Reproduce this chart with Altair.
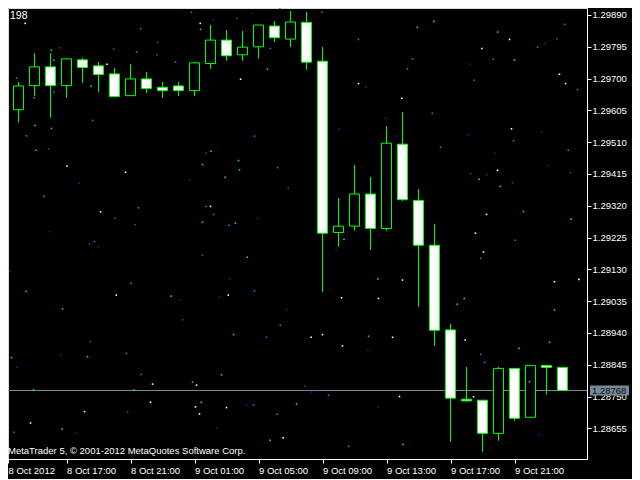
import json
import altair as alt
import pandas as pd

# ---------------- data (H1 bars) ----------------
bar_times = ["8 Oct 13:00", "8 Oct 14:00", "8 Oct 15:00", "8 Oct 16:00", "8 Oct 17:00", "8 Oct 18:00",
             "8 Oct 19:00", "8 Oct 20:00", "8 Oct 21:00", "8 Oct 22:00", "8 Oct 23:00", "9 Oct 00:00",
             "9 Oct 01:00", "9 Oct 02:00", "9 Oct 03:00", "9 Oct 04:00", "9 Oct 05:00", "9 Oct 06:00",
             "9 Oct 07:00", "9 Oct 08:00", "9 Oct 09:00", "9 Oct 10:00", "9 Oct 11:00", "9 Oct 12:00",
             "9 Oct 13:00", "9 Oct 14:00", "9 Oct 15:00", "9 Oct 16:00", "9 Oct 17:00", "9 Oct 18:00",
             "9 Oct 19:00", "9 Oct 20:00", "9 Oct 21:00", "9 Oct 22:00", "9 Oct 23:00", "10 Oct 00:00"]

opens = [1.29497, 1.29607, 1.29679, 1.29735, 1.29679, 1.29756, 1.29738, 1.29714, 1.29649, 1.29699,
         1.29674, 1.29678, 1.29664, 1.29745, 1.29815, 1.29771, 1.29795, 1.29857, 1.29818, 1.29868,
         1.29752, 1.29240, 1.29259, 1.29355, 1.29252, 1.29504, 1.29336, 1.29202, 1.28949, 1.28742,
         1.28739, 1.28640, 1.28834, 1.28688, 1.28843, 1.28837]
highs = [1.29620, 1.29690, 1.29776, 1.29776, 1.29759, 1.29762, 1.29750, 1.29732, 1.29744, 1.29720,
         1.29690, 1.29690, 1.29750, 1.29860, 1.29845, 1.29842, 1.29860, 1.29872, 1.29902, 1.29899,
         1.29794, 1.29343, 1.29442, 1.29406, 1.29558, 1.29600, 1.29370, 1.29266, 1.28967, 1.28838,
         1.28739, 1.28838, 1.28834, 1.28843, 1.28843, 1.28837]
lows = [1.29480, 1.29568, 1.29648, 1.29583, 1.29643, 1.29687, 1.29660, 1.29646, 1.29649, 1.29657,
        1.29642, 1.29648, 1.29648, 1.29729, 1.29753, 1.29753, 1.29759, 1.29809, 1.29794, 1.29726,
        1.29063, 1.29198, 1.29246, 1.29188, 1.29246, 1.29335, 1.29018, 1.28901, 1.28615, 1.28735,
        1.28585, 1.28618, 1.28678, 1.28688, 1.28755, 1.28768]
closes = [1.29606, 1.29678, 1.29735, 1.29679, 1.29759, 1.29733, 1.29712, 1.29646, 1.29699, 1.29670,
          1.29664, 1.29664, 1.29747, 1.29815, 1.29768, 1.29794, 1.29860, 1.29822, 1.29869, 1.29749,
          1.29238, 1.29259, 1.29355, 1.29252, 1.29507, 1.29338, 1.29202, 1.28948, 1.28745, 1.28737,
          1.28640, 1.28834, 1.28685, 1.28843, 1.28837, 1.28768]

bid_price = 1.28768
bid_label = "1.28768"

x_tick_bars = [0, 4, 8, 12, 16, 20, 24, 28, 32]
x_tick_labels = ["8 Oct 2012", "8 Oct 17:00", "8 Oct 21:00", "9 Oct 01:00", "9 Oct 05:00",
                 "9 Oct 09:00", "9 Oct 13:00", "9 Oct 17:00", "9 Oct 21:00"]
y_tick_values = [1.29890, 1.29795, 1.29700, 1.29605, 1.29510, 1.29415, 1.29320, 1.29225,
                 1.29130, 1.29035, 1.28940, 1.28845, 1.28750, 1.28655]

top_left_text = "198"
copyright_text = "MetaTrader 5, \u00a9 2001-2012 MetaQuotes Software Corp."

# background "stars" (bar position, price) grouped by colour
white_x = [1.42, 4.03, 6.13, 7.69, 6.53, 12.36, 14.88, 13.0, 22.25, 24.96, 29.96, 31.69, 34.81, 35.19,
           31.81, 30.94, 30.25, 29.56, 25.0, 21.19, 23.5, 19.29, 20.0, 21.25, 24.38, 30.06, 34.5, 36.03,
           28.92, 24.81, 29.44, 1.75, 5.13, 9.25, 12.06, 12.31, 14.0, 17.54, 7.11, 14.11, 12.13, 9.38]
white_y = [1.29865, 1.29439, 1.29302, 1.29420, 1.29743, 1.29865, 1.29698, 1.29318, 1.29685, 1.29641,
           1.29790, 1.29817, 1.29713, 1.29685, 1.29550, 1.29426, 1.29294, 1.29238, 1.29098, 1.29045,
           1.29043, 1.28927, 1.28935, 1.28901, 1.28927, 1.29182, 1.29093, 1.29100, 1.28919, 1.28750,
           1.28749, 1.28671, 1.28705, 1.28733, 1.28719, 1.28698, 1.28717, 1.28627, 1.29053, 1.29053,
           1.28784, 1.28787]
cyan_x = [3.21, 3.06, 2.03, 3.06, 2.09, 5.53, 12.38, 16.56, 12.5, 13.03, 14.75, 14.81, 13.92, 12.5,
          14.56, 25.92, 26.96, 30.94, 32.0, 29.79, 31.11, 32.56, 35.54, 21.34, 23.46, 22.88, 28.42,
          28.86, 34.5, 32.28, 34.19, 25.03, 32.94, 3.73, 12.42, 18.38, 16.73, 1.48, 3.75, 5.31, 0.56,
          10.54, 15.29, 14.44, 13.69, 11.88, 1.94, 8.23]
cyan_y = [1.29755, 1.29785, 1.29560, 1.29551, 1.29486, 1.29677, 1.29847, 1.29728, 1.29443, 1.29483,
          1.29455, 1.29427, 1.29405, 1.29271, 1.29268, 1.29853, 1.29871, 1.29839, 1.29755, 1.29399,
          1.29378, 1.29303, 1.29280, 1.29220, 1.29101, 1.28930, 1.29026, 1.29043, 1.29009, 1.28894,
          1.28912, 1.28607, 1.28794, 1.28653, 1.28733, 1.28727, 1.28619, 1.29064, 1.29012, 1.28869,
          1.28866, 1.29050, 1.29166, 1.28935, 1.28815, 1.28793, 1.28770, 1.28769]
blue_x = [0.88, 1.98, 3.21, 1.5, 2.59, 8.5, 5.63, 8.38, 8.63, 10.81, 11.81, 17.34, 16.75, 15.75, 17.19,
          12.71, 13.19, 14.15, 19.96, 22.25, 25.63, 25.31, 26.86, 27.38, 29.46, 30.67, 33.44, 35.13,
          35.94, 31.94, 35.36, 29.89, 32.04, 29.89, 30.13, 20.38, 21.63, 0.71, 15.69, 17.15, 8.04, 7.75,
          8.67, 15.75, 17.36, 16.5, 5.75]
blue_y = [1.29702, 1.29643, 1.29659, 1.29529, 1.29348, 1.29314, 1.29575, 1.29779, 1.29849, 1.29750,
          1.29898, 1.29910, 1.29790, 1.29528, 1.29434, 1.29318, 1.29294, 1.29262, 1.29898, 1.29817,
          1.29759, 1.29729, 1.29596, 1.29495, 1.29695, 1.29758, 1.29794, 1.29862, 1.29667, 1.29514,
          1.29486, 1.29163, 1.29217, 1.28876, 1.28852, 1.28754, 1.28601, 1.28643, 1.28724, 1.28697,
          1.29088, 1.28879, 1.28816, 1.29066, 1.28963, 1.28927, 1.29213]
navy_x = [4.79, 2.94, 13.19, 15.61, 11.69, 15.94, 22.71, 23.94, 21.04, 24.65, 29.19, 33.9, 33.69, 29.13,
          30.78, 34.13, 30.28, 20.86, 22.83, 19.31, 23.46, 33.56, 4.56, 13.38, 15.25, 0.48, 6.0, 3.63,
          0.9, 11.06, 14.19, 13.56, 17.75]
navy_y = [1.29387, 1.29243, 1.29875, 1.29895, 1.29396, 1.29283, 1.29674, 1.29581, 1.29549, 1.29528,
          1.29743, 1.29805, 1.29540, 1.29531, 1.29477, 1.29438, 1.29413, 1.29187, 1.28889, 1.28763,
          1.28718, 1.28636, 1.28642, 1.28656, 1.28724, 1.29124, 1.29198, 1.28874, 1.28837, 1.29038,
          1.29102, 1.29048, 1.29009]
green_x = [2.88, 7.03, 8.28, 3.56, 6.94, 9.69, 9.65, 14.65, 12.73, 17.86, 34.65, 31.88, 29.25, 35.5,
           18.92, 7.81, 5.44, 5.5, 11.25, 12.5]
green_y = [1.29490, 1.29283, 1.29263, 1.29792, 1.29788, 1.29808, 1.29770, 1.29880, 1.29477, 1.29372,
           1.29818, 1.29389, 1.29416, 1.29419, 1.28781, 1.28704, 1.29205, 1.28914, 1.28979, 1.29172]

# ---------------- layout / style ----------------
W, H = 579, 451
X_MIN = 0.34375
X_MAX = X_MIN + W / 16.0
Y_MIN, Y_MAX = 1.285633, 1.299109
HALF_BODY = 0.3125
FONT = "Liberation Sans"
LIME = "#00ff00"
BID_GRAY = "#778899"
STAR_COLORS = {"white": "#ffffff", "cyan": "#00d8d8", "blue": "#3d6df2",
               "navy": "#1c1cb0", "green": "#2e5a4e"}

# ---------------- frames ----------------
n = len(opens)
candles = pd.DataFrame({
    "bar": list(range(n)),
    "time": bar_times,
    "open": opens, "high": highs, "low": lows, "close": closes,
})
candles["left"] = candles["bar"] - HALF_BODY
candles["right"] = candles["bar"] + HALF_BODY
candles["dir"] = ["bear" if c < o else "bull" for o, c in zip(opens, closes)]

star_frames = []
for name, xs, ys in [("white", white_x, white_y), ("cyan", cyan_x, cyan_y), ("blue", blue_x, blue_y),
                     ("navy", navy_x, navy_y), ("green", green_x, green_y)]:
    star_frames.append(pd.DataFrame({"bx": xs, "p": ys, "c": STAR_COLORS[name]}))
stars = pd.concat(star_frames, ignore_index=True)

bid_df = pd.DataFrame({"p": [bid_price], "label": [bid_label]})

xscale = alt.Scale(domain=[X_MIN, X_MAX], nice=False, zero=False)
yscale = alt.Scale(domain=[Y_MIN, Y_MAX], nice=False, zero=False)

x_tick_values = [max(v, X_MIN) for v in x_tick_bars]
label_expr = json.dumps(x_tick_labels) + "[round(datum.value / 4)]"

x_axis = alt.Axis(values=x_tick_values, labelExpr=label_expr, title=None, grid=False,
                  orient="bottom", domainColor="white", tickColor="white", tickSize=4,
                  labelColor="white", labelFont=FONT, labelFontSize=9.5, labelAlign="left",
                  labelBaseline="top", labelPadding=2, labelOverlap=False, labelFlush=False)
y_axis = alt.Axis(values=y_tick_values, format=".5f", title=None, grid=False, orient="right",
                  domainColor="white", tickColor="white", tickSize=4, labelColor="white",
                  labelFont=FONT, labelFontSize=9.5, labelAlign="left", labelBaseline="middle",
                  labelPadding=1, labelOverlap=False, labelFlush=False)

bid_line = alt.Chart(bid_df).mark_rule(color=BID_GRAY, strokeWidth=1).encode(
    y=alt.Y("p:Q", scale=yscale, axis=y_axis)
)

wicks = alt.Chart(candles).mark_rule(color=LIME, strokeWidth=1, clip=True).encode(
    x=alt.X("bar:Q", scale=xscale, axis=x_axis),
    y=alt.Y("low:Q", scale=yscale, axis=y_axis),
    y2="high:Q",
)

bodies = alt.Chart(candles).mark_rect(stroke=LIME, strokeWidth=1, clip=True).encode(
    x=alt.X("left:Q", scale=xscale, axis=x_axis),
    x2="right:Q",
    y=alt.Y("open:Q", scale=yscale, axis=y_axis),
    y2="close:Q",
    fill=alt.Fill("dir:N", scale=alt.Scale(domain=["bull", "bear"], range=["#000000", "#ffffff"]),
                  legend=None),
)

star_layer = alt.Chart(stars).mark_square(size=2.5, opacity=1, clip=True).encode(
    x=alt.X("bx:Q", scale=xscale, axis=x_axis),
    y=alt.Y("p:Q", scale=yscale, axis=y_axis),
    color=alt.Color("c:N", scale=None),
)

bid_box = alt.Chart(bid_df).mark_rect(color=BID_GRAY, yOffset=-5, y2Offset=5).encode(
    y=alt.Y("p:Q", scale=yscale, axis=y_axis),
    y2="p:Q",
    x=alt.value(W + 3),
    x2=alt.value(W + 42),
)
bid_text = alt.Chart(bid_df).mark_text(align="left", baseline="middle", font=FONT, fontSize=9.5,
                                       color="#0a0a0a", dy=0.5).encode(
    y=alt.Y("p:Q", scale=yscale, axis=y_axis),
    x=alt.value(W + 5),
    text="label:N",
)

corner = alt.Chart(pd.DataFrame({"t": [top_left_text]})).mark_text(
    align="left", baseline="top", font=FONT, fontSize=10.5, color="white"
).encode(x=alt.value(2), y=alt.value(3), text="t:N")

copyright_mark = alt.Chart(pd.DataFrame({"t": [copyright_text]})).mark_text(
    align="left", baseline="alphabetic", font=FONT, fontSize=9.5, color="white"
).encode(x=alt.value(0), y=alt.value(H - 5), text="t:N")

chart = alt.layer(
    bid_line, wicks, bodies, star_layer, bid_box, bid_text, corner, copyright_mark
).properties(
    width=W, height=H,
    autosize=alt.AutoSizeParams(type="none"),
    padding={"left": 0, "top": 0, "right": 45, "bottom": 20},
    background="#000000",
).configure_view(
    stroke="white", strokeWidth=1
).configure(
    font=FONT
)

chart.save("out.html", embed_options={"renderer": "svg", "actions": False})
